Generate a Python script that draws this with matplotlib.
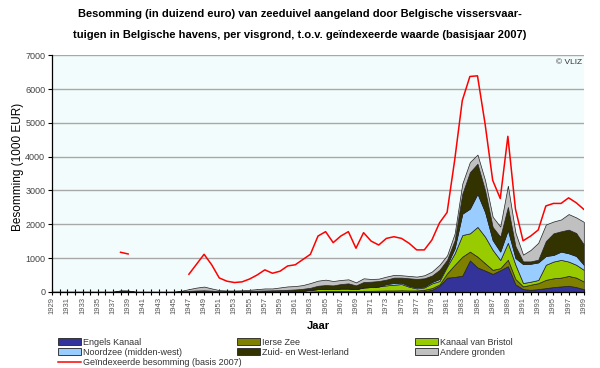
import numpy as np
import matplotlib
matplotlib.use('Agg')
import matplotlib.pyplot as plt
from matplotlib.patches import Patch
from matplotlib.lines import Line2D

plt.rcParams['font.family'] = ['Liberation Sans', 'DejaVu Sans']

years = list(range(1929, 2000))

# values per fishing ground (1000 EUR)
engels_kanaal = {1977: 10, 1978: 20, 1979: 60, 1980: 180, 1981: 420, 1982: 440, 1983: 480,
                 1984: 930, 1985: 720, 1986: 630, 1987: 530, 1988: 640, 1989: 760, 1990: 220,
                 1991: 80, 1992: 60, 1993: 80, 1994: 110, 1995: 140, 1996: 160, 1997: 180,
                 1998: 140, 1999: 80}
ierse_zee = {1963: 10, 1964: 15, 1965: 20, 1966: 20, 1967: 25, 1968: 25, 1969: 20, 1970: 30,
             1971: 30, 1972: 35, 1973: 40, 1974: 40, 1975: 45, 1976: 40, 1977: 30, 1978: 40,
             1979: 50, 1980: 40, 1981: 130, 1982: 360, 1983: 560, 1984: 260, 1985: 320,
             1986: 215, 1987: 120, 1988: 60, 1989: 190, 1990: 160, 1991: 80, 1992: 150,
             1993: 175, 1994: 245, 1995: 260, 1996: 260, 1997: 290, 1998: 280, 1999: 225}
kanaal_bristol = {1960: 10, 1961: 15, 1962: 30, 1963: 50, 1964: 65, 1965: 70, 1966: 60,
                  1967: 75, 1968: 75, 1969: 60, 1970: 100, 1971: 110, 1972: 125, 1973: 150,
                  1974: 170, 1975: 185, 1976: 110, 1977: 60, 1978: 70, 1979: 140, 1980: 100,
                  1981: 200, 1982: 340, 1983: 640, 1984: 540, 1985: 880, 1986: 785, 1987: 590,
                  1988: 240, 1989: 500, 1990: 420, 1991: 100, 1992: 90, 1993: 95, 1994: 445,
                  1995: 495, 1996: 525, 1997: 425, 1998: 380, 1999: 345}
noordzee = {1973: 40, 1974: 50, 1975: 40, 1976: 30, 1977: 30, 1978: 30, 1979: 40, 1980: 60,
            1981: 50, 1982: 150, 1983: 630, 1984: 730, 1985: 980, 1986: 730, 1987: 290,
            1988: 250, 1989: 380, 1990: 200, 1991: 560, 1992: 530, 1993: 520, 1994: 260,
            1995: 195, 1996: 245, 1997: 245, 1998: 260, 1999: 150}
zuid_west_ierland = {1938: 30, 1939: 30, 1946: 15, 1947: 30, 1948: 40, 1949: 45, 1950: 35,
                     1951: 20, 1952: 20, 1953: 20, 1954: 25, 1955: 30, 1956: 35, 1957: 40,
                     1958: 45, 1959: 50, 1960: 50, 1961: 55, 1962: 60, 1963: 60, 1964: 100,
                     1965: 110, 1966: 110, 1967: 130, 1968: 150, 1969: 110, 1970: 160,
                     1971: 160, 1972: 160, 1973: 130, 1974: 160, 1975: 150, 1976: 220,
                     1977: 250, 1978: 240, 1979: 190, 1980: 270, 1981: 150, 1982: 240,
                     1983: 590, 1984: 1080, 1985: 890, 1986: 640, 1987: 390, 1988: 440,
                     1989: 680, 1990: 350, 1991: 80, 1992: 70, 1993: 80, 1994: 440, 1995: 640,
                     1996: 600, 1997: 700, 1998: 680, 1999: 600}
andere_gronden = {1938: 15, 1939: 10, 1946: 15, 1947: 50, 1948: 85, 1949: 110, 1950: 65,
                  1951: 30, 1952: 20, 1953: 20, 1954: 20, 1955: 30, 1956: 45, 1957: 60,
                  1958: 55, 1959: 80, 1960: 100, 1961: 100, 1962: 110, 1963: 140, 1964: 150,
                  1965: 160, 1966: 130, 1967: 120, 1968: 120, 1969: 90, 1970: 110, 1971: 80,
                  1972: 70, 1973: 90, 1974: 80, 1975: 70, 1976: 70, 1977: 70, 1978: 90,
                  1979: 120, 1980: 150, 1981: 130, 1982: 200, 1983: 300, 1984: 300, 1985: 270,
                  1986: 300, 1987: 300, 1988: 300, 1989: 630, 1990: 400, 1991: 200, 1992: 340,
                  1993: 500, 1994: 490, 1995: 350, 1996: 350, 1997: 460, 1998: 460, 1999: 670}

# indexed total (basis 2007), gaps where no data
geindexeerd = {1938: 1170, 1939: 1120, 1947: 520, 1948: 815, 1949: 1110, 1950: 800, 1951: 410,
               1952: 315, 1953: 275, 1954: 295, 1955: 380, 1956: 500, 1957: 650, 1958: 550,
               1959: 610, 1960: 765, 1961: 800, 1962: 955, 1963: 1110, 1964: 1650, 1965: 1780,
               1966: 1455, 1967: 1650, 1968: 1780, 1969: 1290, 1970: 1750, 1971: 1500,
               1972: 1385, 1973: 1580, 1974: 1630, 1975: 1580, 1976: 1435, 1977: 1240,
               1978: 1240, 1979: 1535, 1980: 2040, 1981: 2350, 1982: 3900, 1983: 5660,
               1984: 6370, 1985: 6390, 1986: 4970, 1987: 3300, 1988: 2760, 1989: 4600,
               1990: 2450, 1991: 1510, 1992: 1650, 1993: 1830, 1994: 2540, 1995: 2615,
               1996: 2615, 1997: 2780, 1998: 2635, 1999: 2440}

series = [
    ('Engels Kanaal', engels_kanaal, '#333399'),
    ('Ierse Zee', ierse_zee, '#808000'),
    ('Kanaal van Bristol', kanaal_bristol, '#99CC00'),
    ('Noordzee (midden-west)', noordzee, '#99CCFF'),
    ('Zuid- en West-Ierland', zuid_west_ierland, '#333300'),
    ('Andere gronden', andere_gronden, '#C0C0C0'),
]


def full(d, fill=0.0):
    return np.array([d.get(y, fill) for y in years], dtype=float)


fig = plt.figure(figsize=(6, 3.68), dpi=100)
ax = fig.add_axes([0.087, 0.207, 0.886, 0.643])
ax.set_facecolor('#F3FCFC')

stacks = [full(d) for _, d, _ in series]
colors = [c for _, _, c in series]
ax.stackplot(years, *stacks, colors=colors, edgecolor='#222222', linewidth=0.5, zorder=3)
ax.plot(years, full(geindexeerd, np.nan), color='#FF0000', linewidth=1.1, zorder=4)

ax.set_xlim(1929, 1999)
ax.set_ylim(0, 7000)
ax.set_yticks(range(0, 7001, 1000))
ax.set_xticks(range(1929, 2000, 2))
ax.set_xticks(years, minor=True)
ax.set_xticklabels([str(y) for y in range(1929, 2000, 2)], rotation=90)
ax.tick_params(axis='x', which='both', direction='inout', length=4, width=0.8,
               labelsize=5.5, labelcolor='#555555', pad=2)
ax.tick_params(axis='y', direction='out', length=3, labelsize=6.5, labelcolor='#444444', pad=2)
ax.grid(axis='y', color='#A8A8A8', linewidth=1, zorder=1)
ax.set_axisbelow(True)
for s in ['top', 'right']:
    ax.spines[s].set_visible(False)
for s in ['left', 'bottom']:
    ax.spines[s].set_linewidth(0.9)
    ax.spines[s].set_zorder(5)

ax.set_xlabel('Jaar', fontsize=8, fontweight='bold', labelpad=5)
ax.set_ylabel('Besomming (1000 EUR)', fontsize=8.5)
ax.yaxis.set_label_coords(-0.053, 0.53)
ax.text(0.997, 0.985, '© VLIZ', transform=ax.transAxes, ha='right', va='top',
        fontsize=6, color='#333333')

fig.text(0.5, 0.962, 'Besomming (in duizend euro) van zeeduivel aangeland door Belgische vissersvaar-',
         ha='center', va='center', fontsize=8, fontweight='bold')
fig.text(0.5, 0.904, 'tuigen in Belgische havens, per visgrond, t.o.v. geïndexeerde waarde (basisjaar 2007)',
         ha='center', va='center', fontsize=8, fontweight='bold')

handles = [Patch(facecolor=c, edgecolor='#222222', linewidth=0.6) for c in colors]
red = Line2D([], [], color='#FF0000', linewidth=1.1)
cols = [
    ([handles[0], handles[3], red], [series[0][0], series[3][0], 'Geïndexeerde besomming (basis 2007)'], 0.097),
    ([handles[1], handles[4]], [series[1][0], series[4][0]], 0.395),
    ([handles[2], handles[5]], [series[2][0], series[5][0]], 0.692),
]
for h, l, x in cols:
    leg = fig.legend(h, l, loc='upper left', bbox_to_anchor=(x, 0.082), frameon=False,
                     fontsize=6.5, handlelength=2.5, handleheight=0.8, handletextpad=0.3,
                     labelspacing=0.12, borderaxespad=0, borderpad=0)
    for t in leg.get_texts():
        t.set_color('#333333')

fig.savefig('out.png', dpi=100)
